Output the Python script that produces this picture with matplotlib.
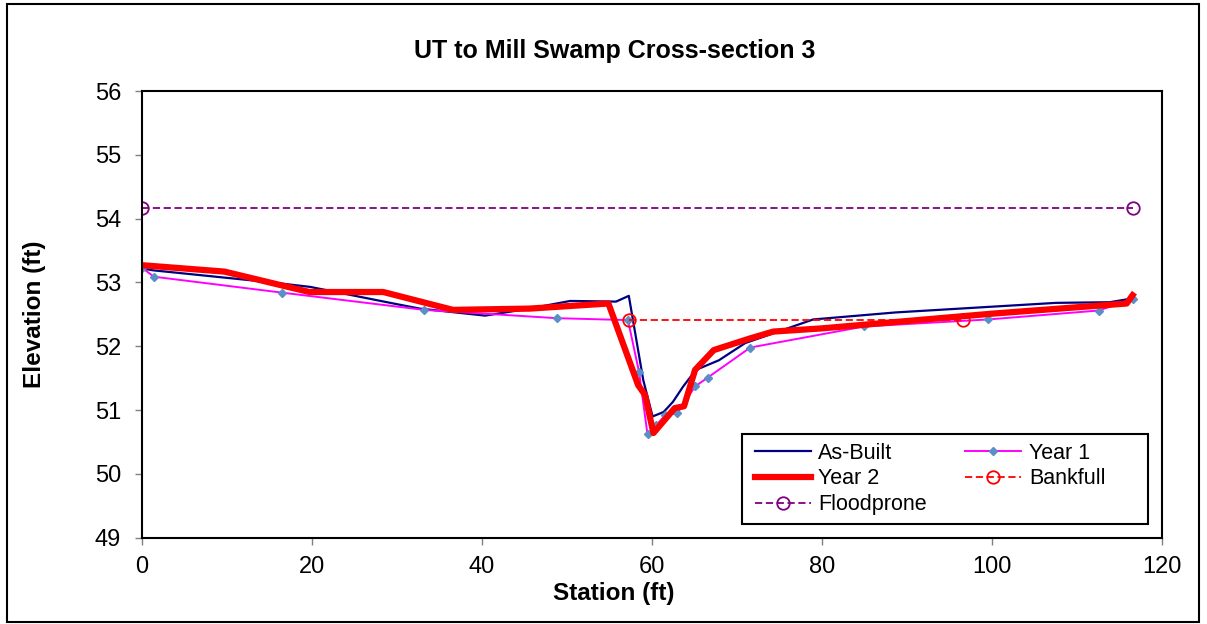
import matplotlib
matplotlib.use("Agg")
import matplotlib.pyplot as plt
from matplotlib.patches import Rectangle

plt.rcParams['font.family'] = ['Liberation Sans', 'DejaVu Sans']

# survey data (station ft, elevation ft)
asbuilt_x = [0, 1.3, 15.3, 19.8, 29.6, 32.7, 40.4, 45.6, 50.4, 55.8, 57.3, 59.0, 60.1, 61.4,
             62.5, 63.7, 65.2, 67.9, 71.0, 79.0, 88.7, 107.6, 113.9, 116.6]
asbuilt_y = [53.22, 53.19, 53.00, 52.93, 52.67, 52.59, 52.48, 52.59, 52.71, 52.70, 52.79, 51.47,
             50.90, 50.97, 51.13, 51.37, 51.63, 51.78, 52.05, 52.42, 52.53, 52.68, 52.69, 52.75]

year1_x = [0, 1.4, 16.5, 33.2, 48.8, 57.2, 58.5, 59.5, 60.5, 61.6, 63.0, 65.1, 66.6, 71.6,
           85.0, 99.6, 112.6, 116.6]
year1_y = [53.23, 53.09, 52.84, 52.57, 52.44, 52.41, 51.60, 50.62, 50.76, 50.92, 50.95, 51.37,
           51.51, 51.98, 52.31, 52.42, 52.56, 52.74]

year2_x = [0, 9.7, 19.7, 28.4, 36.6, 45.6, 54.9, 58.4, 59.2, 60.2, 62.7, 63.8, 65.1, 67.3,
           71.5, 74.3, 80.0, 100.0, 115.9, 116.6]
year2_y = [53.27, 53.17, 52.85, 52.85, 52.57, 52.59, 52.67, 51.39, 51.24, 50.64, 51.03, 51.06,
           51.63, 51.94, 52.12, 52.23, 52.28, 52.51, 52.67, 52.80]

bankfull_x = [57.3, 96.6]
bankfull_y = [52.41, 52.41]

floodprone_x = [0, 116.6]
floodprone_y = [54.17, 54.17]

W, H = 1207, 624
fig = plt.figure(figsize=(W/100, H/100), dpi=100)
ax = fig.add_axes([142/W, 1-537.7/H, (1161.5-142)/W, (537.7-91)/H])

l_ab, = ax.plot(asbuilt_x, asbuilt_y, color='#000080', lw=1.6, label='As-Built')
l_y1, = ax.plot(year1_x, year1_y, color='#FF00FF', lw=1.4, marker='D', markersize=4.5,
                mfc='#5B8FC7', mec='#5B8FC7', label='Year 1')
l_y2, = ax.plot(year2_x, year2_y, color='#FF0000', lw=4.5, label='Year 2')
l_bf, = ax.plot(bankfull_x, bankfull_y, color='#FF0000', lw=1.3, ls='--', dashes=(4, 2),
                marker='o', markersize=9, mfc='none', mec='#FF0000', mew=1.3, label='Bankfull')
l_fp, = ax.plot(floodprone_x, floodprone_y, color='#800080', lw=1.3, ls='--', dashes=(4, 2),
                marker='o', markersize=9, mfc='none', mec='#800080', mew=1.3, label='Floodprone')

ax.set_xlim(0, 120)
ax.set_ylim(49, 56)
ax.set_xticks(range(0, 121, 20))
ax.set_yticks(range(49, 57))
ax.tick_params(labelsize=17, colors='#808080', labelcolor='black', length=5, width=1)
ax.tick_params(axis='y', pad=10)
ax.tick_params(axis='x', pad=8)
for s in ax.spines.values():
    s.set_linewidth(1.5)
    s.set_color('black')

# legend without its own frame, box drawn separately (wider on the right like the original)
leg = ax.legend(handles=[l_ab, l_y2, l_fp, l_y1, l_bf], ncol=2, loc='upper left',
                bbox_to_anchor=(746/W, 1-434/H), bbox_transform=fig.transFigure,
                fontsize=15.5, frameon=False,
                handlelength=2.6, handletextpad=0.35, columnspacing=1.8,
                labelspacing=0.22, borderpad=0.4, borderaxespad=0)
ax.add_artist(Rectangle((742/W, 1-524/H), 406/W, 90/H, transform=fig.transFigure,
                        facecolor='white', edgecolor='black', lw=1.5, zorder=4.9))
leg.set_zorder(5)

fig.text(615/W, 1-58/H, 'UT to Mill Swamp Cross-section 3', ha='center', va='baseline',
         fontsize=18, fontweight='bold')
fig.text(614/W, 1-600/H, 'Station (ft)', ha='center', va='baseline',
         fontsize=17.5, fontweight='bold')
fig.text(35/W, 1-314/H, 'Elevation (ft)', ha='center', va='center', rotation=90,
         fontsize=17.5, fontweight='bold')

fig.patches.append(Rectangle((7/W, 1-622/H), 1192/W, 618/H, transform=fig.transFigure,
                             fill=False, edgecolor='black', lw=1.5))

fig.savefig('out.png', dpi=100)
